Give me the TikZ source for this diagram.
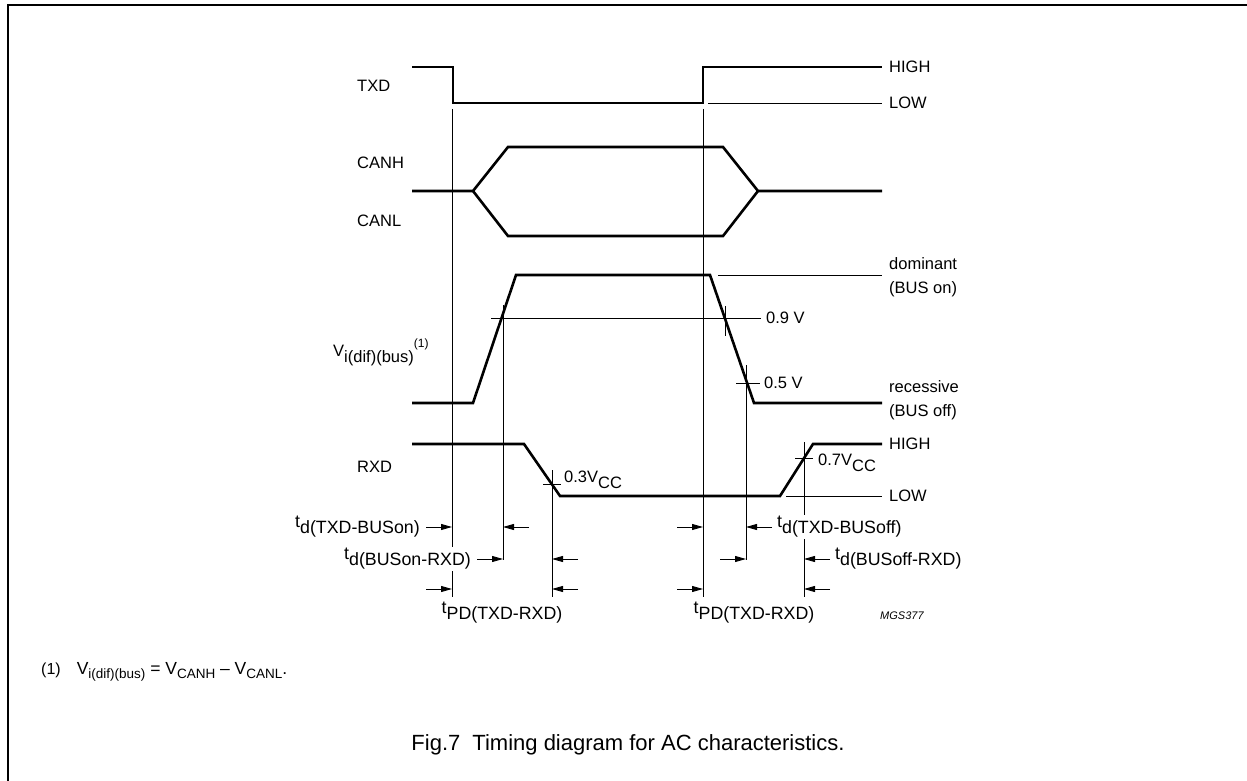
\documentclass[tikz,border=0pt]{standalone}
\usepackage{fontspec}
\setmainfont{Liberation Sans}
\usetikzlibrary{arrows.meta, positioning}

\newcommand{\lw}[1]{\raisebox{-6pt}{#1}}
\newcommand{\smlw}[1]{\raisebox{-4pt}{\fontsize{13.5}{13.5}\selectfont #1}}
\newcommand{\up}[1]{\raisebox{9pt}{\fontsize{12}{12}\selectfont #1}}

\begin{document}
\begin{tikzpicture}[x=1pt,y=-1pt,
  wave/.style={line width=2.6pt},
  fine/.style={line width=0.9pt},
  dim/.style={line width=0.9pt, -{Triangle[length=11pt,width=6pt]}},
  lbl/.style={inner sep=1pt, font=\fontsize{16.5}{24}\selectfont},
  tlbl/.style={inner sep=1pt, font=\fontsize{17.8}{20}\selectfont},
  cut/.style={tlbl, fill=white}]
\useasboundingbox (0,0) rectangle (1247,781);
\draw[line width=1.5pt] (8,781) -- (8,5) -- (1247,5);

% TXD
\node[lbl, anchor=west] (txd) at (356,86) {TXD};
\draw[wave] (412,67) -- (453,67) -- (453,103) -- (703,103) -- (703,67) -- (882,67);
\draw[fine] (708,103) -- (882,103);
\node[lbl, anchor=west] (txdhi) at (888,67) {HIGH};
\node[lbl, anchor=west] (txdlo) at (888,103) {LOW};

% CANH / CANL
\node[lbl, anchor=west] (canh) at (356,163) {CANH};
\node[lbl, anchor=west] (canl) at (356,221) {CANL};
\draw[wave] (412,191) -- (473,191) -- (508,147) -- (723,147) -- (758,191) -- (882,191);
\draw[wave] (473,191) -- (508,236) -- (723,236) -- (758,191);

% Vi(dif)(bus)
\node[lbl, anchor=west] (vi) at (332,352) {V\lw{i(dif)(bus)}\up{(1)}};
\draw[wave] (412,403) -- (473,403) -- (516,275) -- (710,275) -- (754,403) -- (882,403);
\draw[fine] (718,275) -- (882,275);
\node[lbl, anchor=west, align=left] (dom) at (888,277) {dominant\\(BUS on)};
\node[lbl, anchor=west, align=left] (rec) at (888,400) {recessive\\(BUS off)};
\draw[fine] (491,318) -- (761,318);
\node[lbl, anchor=west] (nine) at (765,318) {0.9 V};
\draw[fine] (725,306) -- (725,336);
\draw[fine] (736,383) -- (760,383);
\node[lbl, anchor=west] (five) at (763,383) {0.5 V};

% RXD
\node[lbl, anchor=west] (rxd) at (356,467) {RXD};
\draw[wave] (412,444) -- (524,444) -- (560,496) -- (780,496) -- (813,444) -- (882,444);
\draw[fine] (786,496) -- (882,496);
\node[lbl, anchor=west] (rxdhi) at (888,444) {HIGH};
\node[lbl, anchor=west] (rxdlo) at (888,496) {LOW};
\draw[fine] (543,484) -- (561,484);
\node[lbl, anchor=west] (three) at (563,480) {0.3V\lw{CC}};
\draw[fine] (795,458) -- (813,458);
\node[lbl, anchor=west] (seven) at (817,463) {0.7V\lw{CC}};

% reference lines
\draw[fine] (452,109) -- (452,597);
\draw[fine] (503,305) -- (503,560);
\draw[fine] (552,470) -- (552,597);
\draw[fine] (703,109) -- (703,597);
\draw[fine] (746,365) -- (746,560);
\draw[fine] (804,442) -- (804,597);

% delay arrows
\draw[dim] (426,527) -- (452,527);
\draw[dim] (529,527) -- (503,527);
\draw[dim] (677,527) -- (703,527);
\draw[dim] (772,527) -- (746,527);
\draw[dim] (477,559) -- (503,559);
\draw[dim] (578,559) -- (552,559);
\draw[dim] (720,559) -- (746,559);
\draw[dim] (830,559) -- (804,559);
\draw[dim] (426,589) -- (452,589);
\draw[dim] (578,589) -- (552,589);
\draw[dim] (677,589) -- (703,589);
\draw[dim] (830,589) -- (804,589);

\node[cut, anchor=east] (tdon) at (421,527) {t\lw{d(TXD-BUSon)}};
\node[cut, anchor=east] (tdrx) at (472,559) {t\lw{d(BUSon-RXD)}};
\node[tlbl] (tpdl) at (502,613) {t\lw{PD(TXD-RXD)}};
\node[cut, anchor=west] (tdoff) at (776,527) {t\lw{d(TXD-BUSoff)}};
\node[tlbl, anchor=west] (tdrxo) at (834,559) {t\lw{d(BUSoff-RXD)}};
\node[tlbl] (tpdr) at (754,613) {t\lw{PD(TXD-RXD)}};
\node[anchor=west, inner sep=1pt, font=\fontsize{11}{11}\selectfont\itshape] (code) at (879,616) {MGS377};

% footnote and caption
\node[anchor=west, inner sep=1pt, font=\fontsize{16}{18}\selectfont] (note) at (40,672)
  {(1)\hspace{16pt}{\fontsize{17.5}{18}\selectfont V\smlw{i(dif)(bus)} = V\smlw{CANH} -- V\smlw{CANL}.}};
\node[inner sep=1pt, font=\fontsize{22}{24}\selectfont] (cap) at (628,745)
  {Fig.7\hspace{0.55em}Timing diagram for AC characteristics.};
\end{tikzpicture}
\end{document}
